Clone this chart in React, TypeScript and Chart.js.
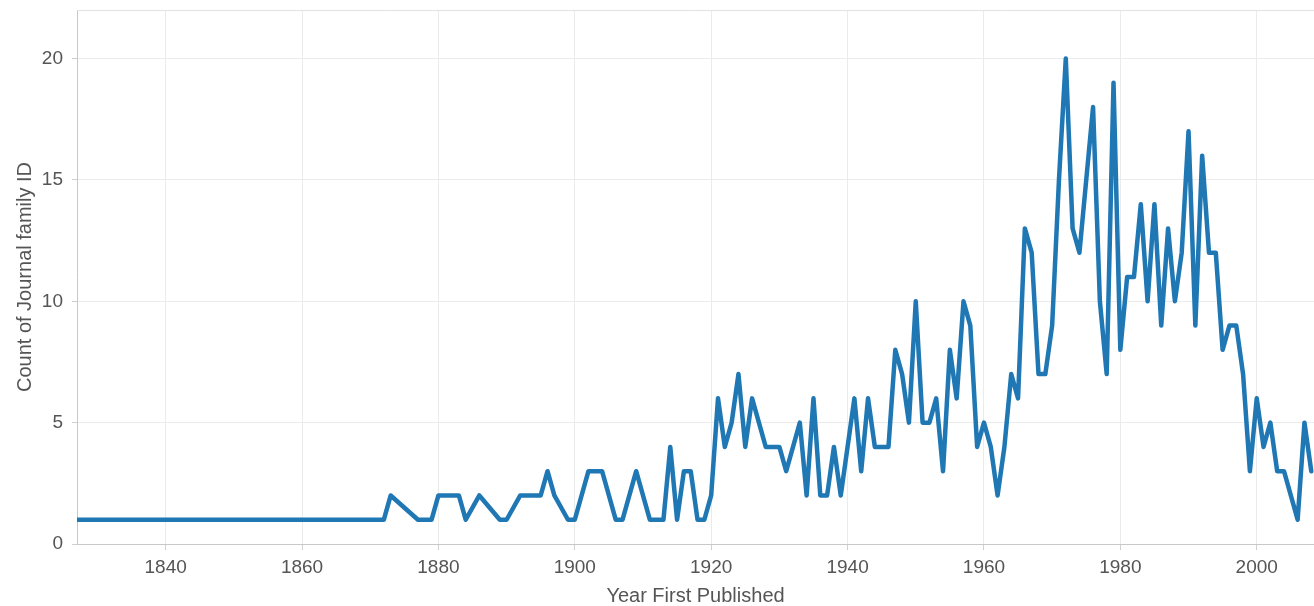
import React, { useEffect, useRef } from "react";
import { Chart, registerables } from "chart.js";

Chart.register(...registerables);

const years = [
  1827, 1872, 1873, 1877, 1879, 1880, 1883, 1884, 1886, 1889, 1890, 1892, 1895, 1896, 1897, 1899, 1900,
  1902, 1904, 1906, 1907, 1909, 1911, 1913, 1914, 1915, 1916, 1917, 1918, 1919, 1920, 1921, 1922, 1923,
  1924, 1925, 1926, 1928, 1930, 1931, 1933, 1934, 1935, 1936, 1937, 1938, 1939, 1941, 1942, 1943, 1944,
  1946, 1947, 1948, 1949, 1950, 1951, 1952, 1953, 1954, 1955, 1956, 1957, 1958, 1959, 1960, 1961, 1962,
  1963, 1964, 1965, 1966, 1967, 1968, 1969, 1970, 1971, 1972, 1973, 1974, 1975, 1976, 1977, 1978, 1979,
  1980, 1981, 1982, 1983, 1984, 1985, 1986, 1987, 1988, 1989, 1990, 1991, 1992, 1993, 1994, 1995, 1996,
  1997, 1998, 1999, 2000, 2001, 2002, 2003, 2004, 2005, 2006, 2007, 2008,
];

const counts = [
  1, 1, 2, 1, 1, 2, 2, 1, 2, 1, 1, 2, 2, 3, 2, 1, 1,
  3, 3, 1, 1, 3, 1, 1, 4, 1, 3, 3, 1, 1, 2, 6, 4, 5,
  7, 4, 6, 4, 4, 3, 5, 2, 6, 2, 2, 4, 2, 6, 3, 6, 4,
  4, 8, 7, 5, 10, 5, 5, 6, 3, 8, 6, 10, 9, 4, 5, 4, 2,
  4, 7, 6, 13, 12, 7, 7, 9, 15, 20, 13, 12, 15, 18, 10, 7, 19,
  8, 11, 11, 14, 10, 14, 9, 13, 10, 12, 17, 9, 16, 12, 12, 8, 9,
  9, 7, 3, 6, 4, 5, 3, 3, 2, 1, 5, 3,
];

const xTickValues = [1840, 1860, 1880, 1900, 1920, 1940, 1960, 1980, 2000];
const yTickValues = [0, 5, 10, 15, 20];
const xTitle = "Year First Published";
const yTitle = "Count of Journal family ID";

export default function App() {
  const ref = useRef<HTMLCanvasElement>(null);

  useEffect(() => {
    if (!ref.current) return;
    const topBorder = {
      id: "topBorder",
      beforeDatasetsDraw(chart: any) {
        const { ctx, chartArea } = chart;
        ctx.save();
        ctx.strokeStyle = "#e2e2e2";
        ctx.lineWidth = 1;
        ctx.beginPath();
        ctx.moveTo(chartArea.left, chartArea.top + 0.5);
        ctx.lineTo(chartArea.right, chartArea.top + 0.5);
        ctx.stroke();
        ctx.restore();
      },
    };
    const family = "'Liberation Sans', Arial, sans-serif";
    const tickFont = { family, size: 19 };
    const titleFont = { family, size: 20, lineHeight: 1 };
    const chart = new Chart(ref.current, {
      type: "line",
      data: {
        datasets: [
          {
            data: years.map((y, i) => ({ x: y, y: counts[i] })),
            borderColor: "#1f77b4",
            borderWidth: 4.5,
            borderJoinStyle: "round",
            borderCapStyle: "round",
            pointRadius: 0,
            tension: 0,
            fill: false,
          },
        ],
      },
      options: {
        animation: false,
        responsive: true,
        maintainAspectRatio: false,
        layout: { padding: 0 },
        plugins: { legend: { display: false }, tooltip: { enabled: false } },
        scales: {
          x: {
            type: "linear",
            min: 1827,
            max: 2008.4,
            afterBuildTicks(scale: any) {
              scale.ticks = xTickValues.map((v) => ({ value: v }));
            },
            afterFit(scale: any) {
              scale.height = 62;
              scale.paddingLeft = 0;
              scale.paddingRight = 0;
            },
            ticks: {
              color: "#555555",
              font: tickFont,
              padding: 6,
              maxRotation: 0,
              callback: (v: any) => String(v),
            },
            grid: { color: "#ebebeb", lineWidth: 1, tickLength: 6, tickColor: "#d0d0d0" },
            border: { color: "#c8c8c8", width: 1 },
            title: {
              display: true,
              text: xTitle,
              color: "#555555",
              font: titleFont,
              padding: { top: 0, bottom: 0 },
            },
          },
          y: {
            type: "linear",
            min: 0,
            max: 22,
            afterBuildTicks(scale: any) {
              scale.ticks = yTickValues.map((v) => ({ value: v }));
            },
            afterFit(scale: any) {
              scale.width = 77;
              scale.paddingTop = 10;
              scale.paddingBottom = 0;
            },
            ticks: { color: "#555555", font: tickFont, padding: 9 },
            grid: { color: "#ebebeb", lineWidth: 1, tickLength: 5, tickColor: "#d0d0d0" },
            border: { color: "#c8c8c8", width: 1 },
            title: {
              display: true,
              text: yTitle,
              color: "#555555",
              font: titleFont,
              padding: { top: 15, bottom: 0 },
            },
          },
        },
      },
      plugins: [topBorder],
    } as any);
    return () => chart.destroy();
  }, []);

  return (
    <div style={{ position: "absolute", left: 0, top: 0, width: 1314, height: 606, background: "#fff" }}>
      <canvas ref={ref} />
    </div>
  );
}
